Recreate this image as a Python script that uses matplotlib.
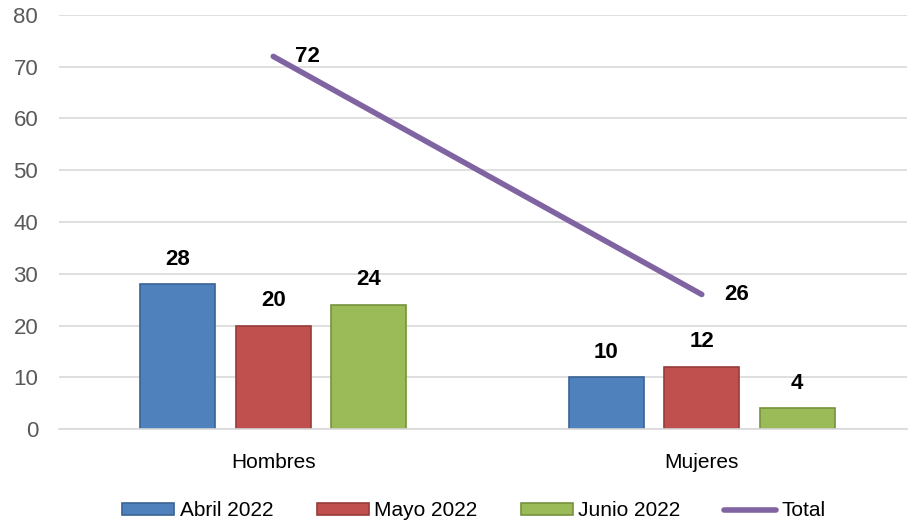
import numpy as np
import matplotlib.pyplot as plt

plt.rcParams['font.family'] = ['Liberation Sans', 'DejaVu Sans']

# --- Data ---
categories = ['Hombres', 'Mujeres']
series_names = ['Abril 2022', 'Mayo 2022', 'Junio 2022']
abril = [28, 10]
mayo = [20, 12]
junio = [24, 4]
total = [72, 26]

colors = ['#4F81BD', '#C0504D', '#9BBB59']
edges = ['#3A6496', '#963C3A', '#76923C']
line_color = '#8064A2'

fig = plt.figure(figsize=(9.09, 5.25), dpi=100)
ax = fig.add_axes([59 / 909, 96 / 525, 848 / 909, 414 / 525])

x = np.arange(len(categories))
width = 0.175
step = 0.223

bar_handles = []
for k, (vals, c, ec, name) in enumerate(zip([abril, mayo, junio], colors, edges, series_names)):
    pos = x + (k - 1) * step
    bars = ax.bar(pos, vals, width, color=c, edgecolor=ec, linewidth=1.2, label=name, zorder=2)
    bar_handles.append(bars)
    for b, v in zip(bars, vals):
        ax.annotate(str(v), (b.get_x() + b.get_width() / 2, v), xytext=(0, 18),
                    textcoords='offset points', ha='center', va='center',
                    fontsize=16, fontweight='bold', color='black')

line, = ax.plot(x, total, color=line_color, linewidth=4, label='Total', zorder=3,
                solid_capstyle='round')
for xi, v in zip(x, total):
    ax.annotate(str(v), (xi, v), xytext=(16, 0), textcoords='offset points',
                ha='left', va='center', fontsize=16, fontweight='bold', color='black')

ax.set_xlim(-0.5, 1.479)
ax.set_ylim(0, 80)
ax.set_yticks(range(0, 81, 10))
ax.set_xticks(x)
ax.set_xticklabels(categories, fontsize=15, color='#000000')
ax.tick_params(axis='y', labelsize=16, labelcolor='#595959', length=0, pad=15)
ax.tick_params(axis='x', length=0, pad=17)
ax.grid(axis='y', color='#D9D9D9', linewidth=1.2, zorder=0)
ax.set_axisbelow(True)
for s in ['top', 'right', 'left']:
    ax.spines[s].set_visible(False)
ax.spines['bottom'].set_color('#D9D9D9')
ax.spines['bottom'].set_linewidth(1.2)

ax.legend(bar_handles + [line], series_names + ['Total'],
          loc='center', bbox_to_anchor=(474 / 909, 14 / 525),
          bbox_transform=fig.transFigure, ncol=4, frameon=False,
          fontsize=15, handlelength=2.5, handleheight=0.5,
          handletextpad=0.25, columnspacing=2.1)

plt.savefig('out.png', dpi=100)
